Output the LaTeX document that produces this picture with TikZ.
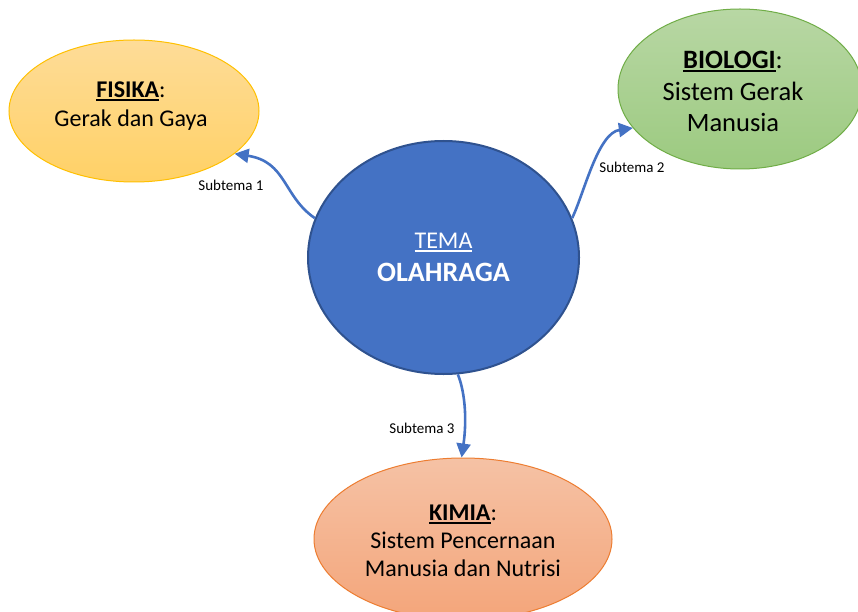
\documentclass[tikz,border=0pt]{standalone}
\usepackage{fontspec}
\setmainfont{Carlito}
\usetikzlibrary{shapes.geometric,arrows.meta}
\definecolor{temafill}{HTML}{4472C4}
\definecolor{temaline}{HTML}{2F528F}
\definecolor{arrowc}{HTML}{4472C4}
\definecolor{fisTop}{HTML}{FEDC98}
\definecolor{fisBot}{HTML}{FFD166}
\definecolor{fisLine}{HTML}{FFC000}
\definecolor{bioTop}{HTML}{B8D7A4}
\definecolor{bioBot}{HTML}{9CCA80}
\definecolor{bioLine}{HTML}{70AD47}
\definecolor{kimTop}{HTML}{F5C2A5}
\definecolor{kimBot}{HTML}{F4A57A}
\definecolor{kimLine}{HTML}{ED7D31}
\newcommand\myul[1]{\setbox0\hbox{#1}\leavevmode\rlap{\rule[-0.13em]{\wd0}{0.075em}}\copy0}
\tikzset{
  bubble/.style={ellipse, inner sep=0pt, align=center, text=black, line width=1pt},
  bubbletext/.style={align=center, inner sep=0pt, text=black},
  conn/.style={draw=arrowc, line width=2.6pt, -{Triangle[length=14pt,width=14pt]}},
  sublabel/.style={font=\fontsize{15}{18}\selectfont, text=black, inner sep=0pt}
}
\begin{document}
\begin{tikzpicture}[x=1pt,y=-1pt]
\useasboundingbox (0,0) rectangle (858,612);
\clip (0,0) rectangle (858,612);
\fill[white] (0,0) rectangle (858,612);
% bubbles
\node[bubble, draw=fisLine, top color=fisTop, bottom color=fisBot,
      minimum width=250pt, minimum height=142pt] (fisika) at (134,111) {};
\node[bubbletext, font=\fontsize{24}{29}\selectfont] (fisikatext) at (131,106)
  {\myul{\bfseries FISIKA}:\\Gerak dan Gaya};
\node[bubble, draw=bioLine, top color=bioTop, bottom color=bioBot,
      minimum width=244pt, minimum height=160pt] (biologi) at (740,89) {};
\node[bubbletext, font=\fontsize{26.5}{31.5}\selectfont] (biologitext) at (733,91.5)
  {\myul{\bfseries BIOLOGI}:\\Sistem Gerak\\Manusia};
\node[bubble, draw=kimLine, top color=kimTop, bottom color=kimBot,
      minimum width=298pt, minimum height=162pt] (kimia) at (463,539) {};
\node[bubbletext, font=\fontsize{24}{28}\selectfont] (kimiatext) at (463,541)
  {\myul{\bfseries KIMIA}:\\Sistem Pencernaan\\Manusia dan Nutrisi};
\node[bubble, draw=temaline, fill=temafill, line width=2pt, text=white,
      minimum width=271pt, minimum height=233pt, font=\fontsize{24}{33}\selectfont] (tema) at (443.5,257.5)
  {\myul{TEMA}\\{\bfseries\fontsize{28}{33}\selectfont OLAHRAGA}};
% connectors
\draw[conn] (tema.163) .. controls +(-32,-22) and +(52,8) .. (fisika.-23);
\draw[conn] (tema.17) .. controls +(12,-25) and +(-35,5) .. (biologi.200);
\draw[conn] (tema.277) .. controls +(8,20) and +(5,-35) .. (kimia.91);
% labels
\node[sublabel] (sub1) at (231,185) {Subtema 1};
\node[sublabel] (sub2) at (632,167) {Subtema 2};
\node[sublabel] (sub3) at (422,428) {Subtema 3};
\end{tikzpicture}
\end{document}
